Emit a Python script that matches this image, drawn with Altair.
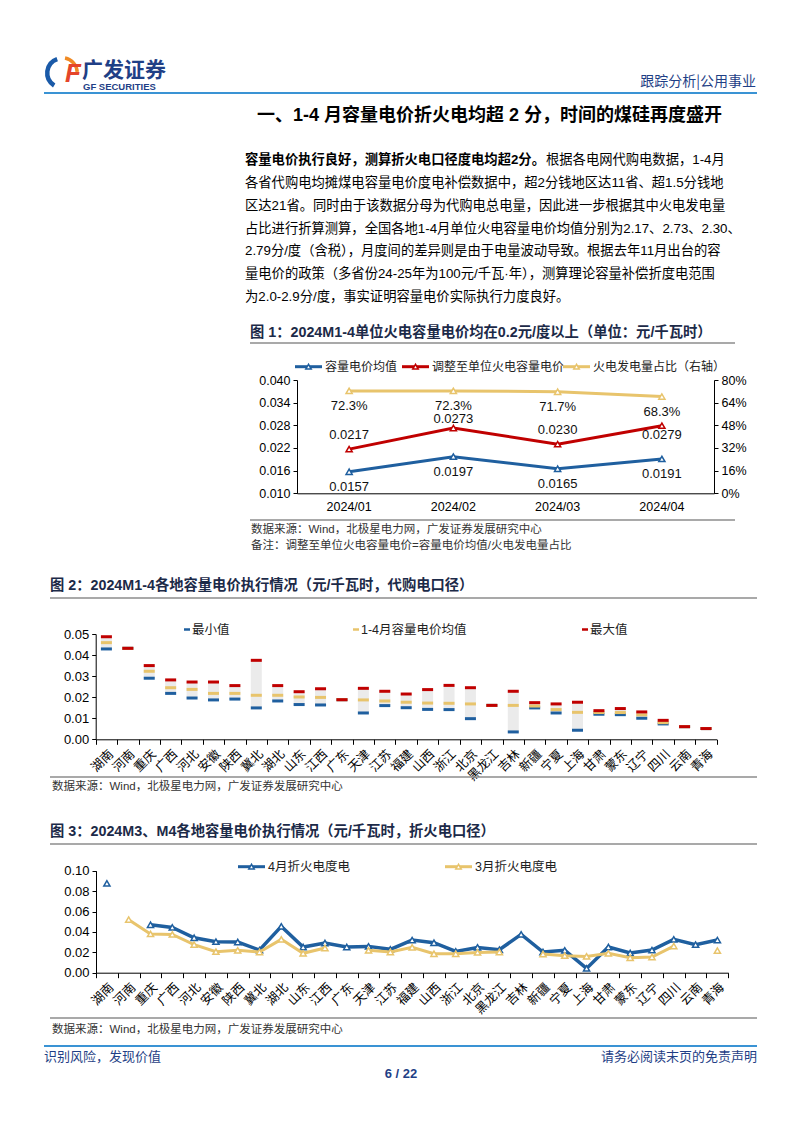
import altair as alt
import pandas as pd

# ---------------- data ----------------
months = ["2024/01", "2024/02", "2024/03", "2024/04"]
cap_avg = [0.0157, 0.0197, 0.0165, 0.0191]
cap_adj = [0.0217, 0.0273, 0.0230, 0.0279]
thermal_share = [0.723, 0.723, 0.717, 0.683]
# label placement of the red series (pixel offset from its point)
adj_label_dy = [-14, -9, -14, 9.5]

regions = ["湖南", "河南", "重庆", "广西", "河北", "安徽", "陕西", "冀北", "湖北", "山东",
           "江西", "广东", "天津", "江苏", "福建", "山西", "浙江", "北京", "黑龙江", "吉林",
           "新疆", "宁夏", "上海", "甘肃", "蒙东", "辽宁", "四川", "云南", "青海"]
price_max = [0.0487, 0.0432, 0.0350, 0.0282, 0.0272, 0.0272, 0.0255, 0.0375, 0.0255, 0.0226,
             0.0240, 0.0188, 0.0242, 0.0228, 0.0215, 0.0236, 0.0256, 0.0245, 0.0161, 0.0228,
             0.0174, 0.0168, 0.0176, 0.0136, 0.0146, 0.0130, 0.0090, 0.0060, 0.0051]
price_avg = [0.0459, 0.0432, 0.0323, 0.0245, 0.0237, 0.0218, 0.0218, 0.0209, 0.0209, 0.0201,
             0.0199, 0.0188, 0.0187, 0.0182, 0.0176, 0.0172, 0.0171, 0.0168, 0.0161, 0.0161,
             0.0158, 0.0141, 0.0128, 0.0127, 0.0127, 0.0116, 0.0079, 0.0060, 0.0051]
price_min = [0.0429, 0.0432, 0.0290, 0.0218, 0.0196, 0.0187, 0.0191, 0.0149, 0.0182, 0.0165,
             0.0163, 0.0188, 0.0125, 0.0160, 0.0150, 0.0142, 0.0141, 0.0098, 0.0161, 0.0035,
             0.0149, 0.0125, 0.0043, 0.0119, 0.0117, 0.0100, 0.0073, 0.0060, 0.0051]

apr_vals = [0.0876, None, 0.0470, 0.0444, 0.0343, 0.0304, 0.0301, 0.0222, 0.0454, 0.0252,
            0.0291, 0.0252, 0.0258, 0.0229, 0.0320, 0.0294, 0.0209, 0.0248, 0.0225, 0.0376,
            0.0203, 0.0219, 0.0042, 0.0252, 0.0193, 0.0222, 0.0327, 0.0275, 0.0320]
mar_vals = [None, 0.0520, 0.0380, 0.0375, 0.0275, 0.0206, 0.0219, 0.0203, 0.0327, 0.0190,
            0.0242, None, 0.0219, 0.0203, 0.0248, 0.0186, 0.0186, 0.0199, 0.0203, None,
            0.0183, 0.0167, 0.0160, 0.0190, 0.0147, 0.0154, 0.0261, None, 0.0216]

f1_left_ticks = [0.010, 0.016, 0.022, 0.028, 0.034, 0.040]
f1_right_ticks = [0.0, 0.16, 0.32, 0.48, 0.64, 0.80]
f2_ticks = [0.00, 0.01, 0.02, 0.03, 0.04, 0.05]
f3_ticks = [0.00, 0.02, 0.04, 0.06, 0.08, 0.10]

paragraph_lines = [
    "各省代购电均摊煤电容量电价度电补偿数据中，超2分钱地区达11省、超1.5分钱地",
    "区达21省。同时由于该数据分母为代购电总电量，因此进一步根据其中火电发电量",
    "占比进行折算测算，全国各地1-4月单位火电容量电价均值分别为2.17、2.73、2.30、",
    "2.79分/度（含税），月度间的差异则是由于电量波动导致。根据去年11月出台的容",
    "量电价的政策（多省份24-25年为100元/千瓦·年），测算理论容量补偿折度电范围",
    "为2.0-2.9分/度，事实证明容量电价实际执行力度良好。",
]

# ---------------- styling ----------------
OFF = 8
W, H = 770, 1090
CJK = "Noto Sans CJK SC"
LAT = "Liberation Sans, Noto Sans CJK SC"
BLUE = "#1f5f9f"
RED = "#c00000"
GOLD = "#e8c46c"
NAVY = "#1f3f86"
GRAY = "#8c8c8c"
LBLUE = "#3a93d4"


def X(v):
    return v - OFF


def Y(v):
    return v - OFF


one = pd.DataFrame({"k": [0]})


def txt(s, x, y, size=13, color="#000", font=LAT, weight="normal", align="left",
        baseline="middle", style="normal"):
    return alt.Chart(one).mark_text(
        text=s, fontSize=size, color=color, font=font, fontWeight=weight,
        align=align, baseline=baseline, fontStyle=style
    ).encode(x=alt.value(X(x)), y=alt.value(Y(y)))


def hline(x1, x2, y, color, width):
    return alt.Chart(one).mark_rule(color=color, strokeWidth=width).encode(
        x=alt.value(X(x1)), x2=alt.value(X(x2)), y=alt.value(Y(y)))


def tri(x, y, color, size=38):
    return alt.Chart(one).mark_point(
        shape="triangle-up", size=size, fill="white", stroke=color, strokeWidth=1.5,
        opacity=1, filled=True
    ).encode(x=alt.value(X(x)), y=alt.value(Y(y)))


layers = []

# ---------------- header ----------------
layers.append(alt.Chart(one).mark_arc(theta=3.7, theta2=5.95, radius=17, radius2=12.5,
                                      color="#1a5aa8").encode(x=alt.value(X(62)), y=alt.value(Y(73))))
layers.append(alt.Chart(one).mark_arc(theta=0.2, theta2=1.5, radius=17, radius2=13.5,
                                      color="#f08a24").encode(x=alt.value(X(62)), y=alt.value(Y(73))))
layers.append(txt("F", 65, 74, size=26, color="#e5452a", weight="bold", style="italic"))
layers.append(txt("广发证券", 82, 71, size=21, color=NAVY, font=CJK, weight="bold"))
layers.append(txt("GF SECURITIES", 83, 87, size=9.5, color=NAVY, weight="bold"))
layers.append(txt("跟踪分析|公用事业", 756, 82, size=14, color=NAVY, font=CJK, align="right"))
layers.append(hline(44, 757, 93, LBLUE, 2))
layers.append(txt("一、1-4 月容量电价折火电均超 2 分，时间的煤硅再度盛开", 257, 116, size=18,
                  color="#000", weight="bold"))

# ---------------- paragraph ----------------
layers.append(txt("容量电价执行良好，测算折火电口径度电均超2分。", 245, 160, size=13.3, weight="bold"))
layers.append(txt("根据各电网代购电数据，1-4月", 546, 160, size=13.3))
for i, line in enumerate(paragraph_lines):
    layers.append(txt(line, 245, 183 + i * 22.8, size=13.3))

# ---------------- figure 1 ----------------
layers.append(txt("图 1：2024M1-4单位火电容量电价均在0.2元/度以上（单位：元/千瓦时）", 250, 333,
                  size=14.3, color="#1c2a48", weight="bold"))
layers.append(hline(250, 735, 343, GRAY, 1.5))
layers.append(hline(250, 735, 520, GRAY, 1.5))
layers.append(txt("数据来源：Wind，北极星电力网，广发证券发展研究中心", 251, 530, size=11.5, color="#333"))
layers.append(txt("备注：调整至单位火电容量电价=容量电价均值/火电发电量占比", 251, 546, size=11.5, color="#333"))

# legend fig 1
for (x0, c, label) in [(295, BLUE, "容量电价均值"), (402, RED, "调整至单位火电容量电价"),
                       (563, GOLD, "火电发电量占比（右轴）")]:
    layers.append(hline(x0, x0 + 27, 366.7, c, 3))
    layers.append(tri(x0 + 13.5, 366.7, c, size=30))
    layers.append(txt(label, x0 + 30, 366.7, size=12, font=CJK, color="#222"))

f1 = pd.DataFrame({"month": months, "avg": cap_avg, "adj": cap_adj, "share": thermal_share})
f1["avg_lbl"] = f1["avg"].map(lambda v: f"{v:.4f}")
f1["adj_lbl"] = f1["adj"].map(lambda v: f"{v:.4f}")
f1["share_lbl"] = f1["share"].map(lambda v: f"{v * 100:.1f}%")

xs1 = alt.Scale(type="band", domain=months, range=[X(297), X(714)], paddingInner=0, paddingOuter=0)
yl1 = alt.Scale(domain=[0.010, 0.040], range=[Y(493.3), Y(380)], zero=False, nice=False)
yr1 = alt.Scale(domain=[0.0, 0.80], range=[Y(493.3), Y(380)], zero=False, nice=False)

x1_axis = alt.Axis(orient="bottom", offset=Y(493.3) - H, title=None, labelAngle=0, ticks=False,
                   labelPadding=7, labelFont=LAT, labelFontSize=12.5, labelColor="#000",
                   domainColor="#000", grid=False)
yl1_axis = alt.Axis(orient="left", offset=-X(297), title=None, values=f1_left_ticks, format=".3f",
                    tickSize=4, labelPadding=3, labelFont=LAT, labelFontSize=12.5, labelColor="#000",
                    domainColor="#000", tickColor="#000", grid=False, labelOverlap=False)
yr1_axis = alt.Axis(orient="right", offset=X(714) - W, title=None, values=f1_right_ticks, format=".0%",
                    tickSize=4, labelPadding=3, labelFont=LAT, labelFontSize=12.5, labelColor="#000",
                    domainColor="#000", tickColor="#000", grid=False, labelOverlap=False)


def xf1(axis=None):
    return alt.X("month:N", sort=months, scale=xs1, axis=axis)


base1 = alt.Chart(f1)
layers.append(base1.mark_line(color=GOLD, strokeWidth=3).encode(
    x=xf1(x1_axis), y=alt.Y("share:Q", scale=yr1, axis=yr1_axis)))
layers.append(base1.mark_point(shape="triangle-up", size=38, fill="white", stroke=GOLD,
                               strokeWidth=1.5, opacity=1, filled=True).encode(
    x=xf1(), y=alt.Y("share:Q", scale=yr1, axis=None)))
layers.append(base1.mark_text(dy=15, fontSize=13, font=LAT, color="#111").encode(
    x=xf1(), y=alt.Y("share:Q", scale=yr1, axis=None), text="share_lbl:N"))

layers.append(base1.mark_line(color=RED, strokeWidth=3).encode(
    x=xf1(), y=alt.Y("adj:Q", scale=yl1, axis=yl1_axis)))
layers.append(base1.mark_point(shape="triangle-up", size=38, fill="white", stroke=RED,
                               strokeWidth=1.5, opacity=1, filled=True).encode(
    x=xf1(), y=alt.Y("adj:Q", scale=yl1, axis=None)))
for m, d in zip(months, adj_label_dy):
    layers.append(base1.transform_filter(alt.datum.month == m).mark_text(
        dy=d, fontSize=13, font=LAT, color="#111").encode(
        x=xf1(), y=alt.Y("adj:Q", scale=yl1, axis=None), text="adj_lbl:N"))

layers.append(base1.mark_line(color=BLUE, strokeWidth=3).encode(
    x=xf1(), y=alt.Y("avg:Q", scale=yl1, axis=None)))
layers.append(base1.mark_point(shape="triangle-up", size=38, fill="white", stroke=BLUE,
                               strokeWidth=1.5, opacity=1, filled=True).encode(
    x=xf1(), y=alt.Y("avg:Q", scale=yl1, axis=None)))
layers.append(base1.mark_text(dy=15, fontSize=13, font=LAT, color="#111").encode(
    x=xf1(), y=alt.Y("avg:Q", scale=yl1, axis=None), text="avg_lbl:N"))

# ---------------- figure 2 ----------------
layers.append(txt("图 2：2024M1-4各地容量电价执行情况（元/千瓦时，代购电口径）", 50, 586,
                  size=14.3, color="#1c2a48", weight="bold"))
layers.append(hline(50, 757, 598, GRAY, 1.5))
layers.append(hline(50, 757, 777, GRAY, 1.5))
layers.append(txt("数据来源：Wind，北极星电力网，广发证券发展研究中心", 52, 787, size=11.5, color="#333"))

for (x0, c, label) in [(184, BLUE, "最小值"), (353, GOLD, "1-4月容量电价均值"), (582, RED, "最大值")]:
    layers.append(hline(x0, x0 + 6, 629.5, c, 2.5))
    layers.append(txt(label, x0 + 8, 629.5, size=12.5, color="#222"))

f2 = pd.DataFrame({"region": regions, "lo": price_min, "mid": price_avg, "hi": price_max})
xs2 = alt.Scale(type="band", domain=regions, range=[X(95.7), X(716.7)], paddingInner=0, paddingOuter=0)
ys2 = alt.Scale(domain=[0, 0.05], range=[Y(739.3), Y(634)], nice=False)
x2_axis = alt.Axis(orient="bottom", offset=Y(739.3) - H, title=None, labelAngle=-45, tickBand="extent",
                   tickSize=5, labelPadding=3, labelFont=CJK, labelFontSize=12.5, labelColor="#000",
                   labelOverlap=False, domainColor="#000", tickColor="#000", grid=False)
y2_axis = alt.Axis(orient="left", offset=-X(95.7), title=None, values=f2_ticks, format=".2f",
                   tickSize=4, labelPadding=3, labelFont=LAT, labelFontSize=13, labelColor="#000",
                   domainColor="#000", tickColor="#000", grid=False, labelOverlap=False)


def xf2(axis=None):
    return alt.X("region:N", sort=regions, scale=xs2, axis=axis)


base2 = alt.Chart(f2)
layers.append(base2.mark_bar(color="#ebebeb", width=11).encode(
    x=xf2(x2_axis), y=alt.Y("lo:Q", scale=ys2, axis=y2_axis), y2="hi:Q"))
for field, c in [("lo", BLUE), ("mid", GOLD), ("hi", RED)]:
    layers.append(base2.mark_tick(color=c, thickness=3, size=11, opacity=1).encode(
        x=xf2(), y=alt.Y(f"{field}:Q", scale=ys2, axis=None)))

# ---------------- figure 3 ----------------
layers.append(txt("图 3：2024M3、M4各地容量电价执行情况（元/千瓦时，折火电口径）", 50, 832,
                  size=14.3, color="#1c2a48", weight="bold"))
layers.append(hline(50, 757, 844, GRAY, 1.5))
layers.append(hline(50, 757, 1018, GRAY, 1.5))
layers.append(txt("数据来源：Wind，北极星电力网，广发证券发展研究中心", 52, 1030, size=11.5, color="#333"))

for (x0, c, label) in [(238, BLUE, "4月折火电度电"), (445, GOLD, "3月折火电度电")]:
    layers.append(hline(x0, x0 + 27, 866.7, c, 3))
    layers.append(tri(x0 + 13.5, 866.7, c, size=30))
    layers.append(txt(label, x0 + 30, 866.7, size=12.5, color="#222"))


def series_df(vals):
    rows = []
    seg = 0
    for i, (r, v) in enumerate(zip(regions, vals)):
        if v is None:
            seg += 1
            continue
        rows.append({"region": r, "idx": i, "val": v, "seg": seg})
    return pd.DataFrame(rows)


xs3 = alt.Scale(type="band", domain=regions, range=[X(96), X(728.3)], paddingInner=0, paddingOuter=0)
ys3 = alt.Scale(domain=[0, 0.10], range=[Y(972.7), Y(870.7)], nice=False)
x3_axis = alt.Axis(orient="bottom", offset=Y(972.7) - H, title=None, labelAngle=-45, tickBand="extent",
                   tickSize=5, labelPadding=3, labelFont=CJK, labelFontSize=12.5, labelColor="#000",
                   labelOverlap=False, domainColor="#000", tickColor="#000", grid=False)
y3_axis = alt.Axis(orient="left", offset=-X(96), title=None, values=f3_ticks, format=".2f",
                   tickSize=4, labelPadding=3, labelFont=LAT, labelFontSize=13, labelColor="#000",
                   domainColor="#000", tickColor="#000", grid=False, labelOverlap=False)


def xf3(axis=None):
    return alt.X("region:N", sort=regions, scale=xs3, axis=axis)


apr_df = series_df(apr_vals)
mar_df = series_df(mar_vals)
first = True
for df, c, w in [(apr_df, BLUE, 3.5), (mar_df, GOLD, 3)]:
    b = alt.Chart(df)
    layers.append(b.mark_line(color=c, strokeWidth=w).encode(
        x=xf3(x3_axis if first else None),
        y=alt.Y("val:Q", scale=ys3, axis=y3_axis if first else None),
        detail="seg:N", order="idx:Q"))
    layers.append(b.mark_point(shape="triangle-up", size=38, fill="white", stroke=c,
                               strokeWidth=1.5, opacity=1, filled=True).encode(
        x=xf3(), y=alt.Y("val:Q", scale=ys3, axis=None)))
    first = False

# ---------------- footer ----------------
layers.append(hline(44, 757, 1046, LBLUE, 2))
layers.append(txt("识别风险，发现价值", 44, 1057, size=13, color=NAVY, font=CJK))
layers.append(txt("请务必阅读末页的免责声明", 757, 1057, size=13, color=NAVY, font=CJK, align="right"))
layers.append(txt("6 / 22", 401, 1074, size=13, color=NAVY, weight="bold", align="center"))

chart = alt.layer(*layers).resolve_scale(x="independent", y="independent").properties(
    width=W, height=H, padding=0, autosize=alt.AutoSizeParams(type="none"), background="white"
).configure_view(stroke=None).configure_axis(grid=False)

chart.save("out.html", embed_options={"renderer": "svg", "actions": False})
